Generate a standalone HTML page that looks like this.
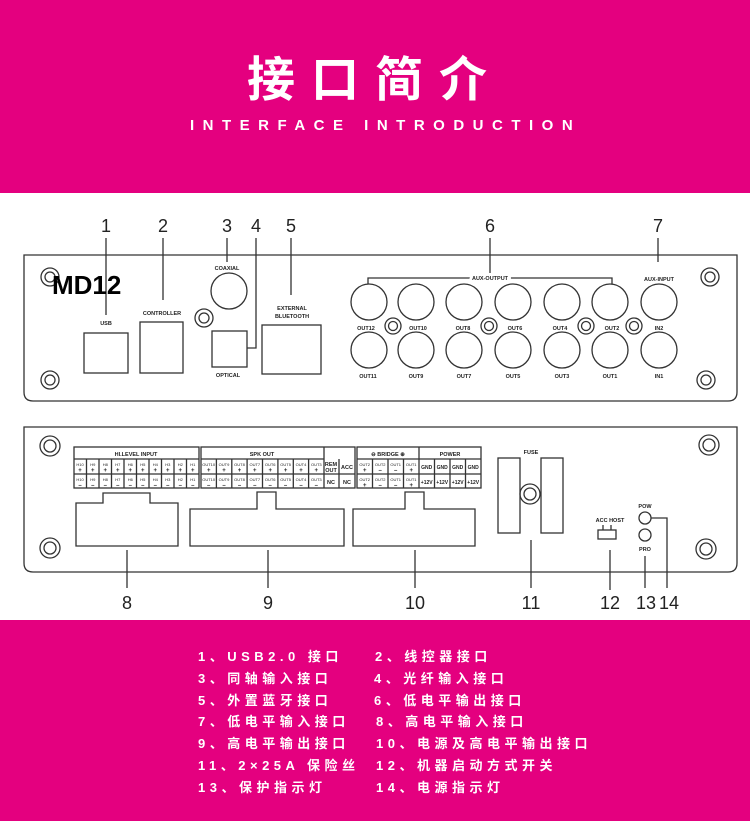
<!DOCTYPE html>
<html><head><meta charset="utf-8"><style>
html,body{margin:0;padding:0;background:#fff;}
body{width:750px;height:821px;position:relative;overflow:hidden;font-family:"Liberation Sans","Noto Sans CJK SC",sans-serif;}
.band{position:absolute;left:0;width:750px;background:#e4007f;}
.t{position:absolute;color:#fff;font-weight:bold;white-space:nowrap;}
.li{position:absolute;color:#fff;font-weight:bold;font-size:13px;letter-spacing:4.5px;white-space:nowrap;font-family:"Liberation Sans","Noto Sans CJK SC",sans-serif;}
</style></head><body>
<div class="band" style="top:0;height:193px;"></div>
<div class="t" style="top:40px;left:0;width:750px;text-align:center;font-size:48px;letter-spacing:16px;font-family:'Noto Sans CJK SC',sans-serif;">接口简介</div>
<div class="t" style="top:117px;left:190px;font-size:15px;letter-spacing:8.5px;">INTERFACE INTRODUCTION</div>

<svg style="position:absolute;left:0;top:193px" width="750" height="427" viewBox="0 193 750 427" xmlns="http://www.w3.org/2000/svg" font-family="Liberation Sans, sans-serif">
<g fill="none" stroke="#333" stroke-width="1.3">
<path d="M24 255 H737 V392 Q737 401 728 401 H33 Q24 401 24 392 Z"/>
<circle cx="50" cy="277" r="9"/><circle cx="50" cy="277" r="5"/>
<circle cx="50" cy="380" r="9"/><circle cx="50" cy="380" r="5"/>
<circle cx="710" cy="277" r="9"/><circle cx="710" cy="277" r="5"/>
<circle cx="706" cy="380" r="9"/><circle cx="706" cy="380" r="5"/>
<rect x="84" y="333" width="44" height="40"/>
<rect x="140" y="322" width="43" height="51"/>
<circle cx="229" cy="291" r="18"/>
<circle cx="204" cy="318" r="9"/><circle cx="204" cy="318" r="5"/>
<rect x="212" y="331" width="35" height="36"/>
<rect x="262" y="325" width="59" height="49"/>
<path d="M106 238 V315 M163 238 V300 M227 238 V262 M256 238 V348 H247 M291 238 V295 M490 238 V278 M658 238 V262"/>
<path d="M368 284 V278 H612 V284"/>
<g>
<circle cx="369" cy="302" r="18"/><circle cx="416" cy="302" r="18"/><circle cx="464" cy="302" r="18"/><circle cx="513" cy="302" r="18"/><circle cx="562" cy="302" r="18"/><circle cx="610" cy="302" r="18"/><circle cx="659" cy="302" r="18"/>
<circle cx="369" cy="350" r="18"/><circle cx="416" cy="350" r="18"/><circle cx="464" cy="350" r="18"/><circle cx="513" cy="350" r="18"/><circle cx="562" cy="350" r="18"/><circle cx="610" cy="350" r="18"/><circle cx="659" cy="350" r="18"/>
<circle cx="393" cy="326" r="8"/><circle cx="393" cy="326" r="4.5"/>
<circle cx="489" cy="326" r="8"/><circle cx="489" cy="326" r="4.5"/>
<circle cx="586" cy="326" r="8"/><circle cx="586" cy="326" r="4.5"/>
<circle cx="634" cy="326" r="8"/><circle cx="634" cy="326" r="4.5"/>
</g>
<path d="M24 427 H737 V563 Q737 572 728 572 H33 Q24 572 24 563 Z"/>
<circle cx="50" cy="446" r="10"/><circle cx="50" cy="446" r="6"/>
<circle cx="50" cy="548" r="10"/><circle cx="50" cy="548" r="6"/>
<circle cx="709" cy="445" r="10"/><circle cx="709" cy="445" r="6"/>
<circle cx="706" cy="549" r="10"/><circle cx="706" cy="549" r="6"/>
<rect x="74" y="447" width="125" height="41"/><path d="M74 459 H199 M74 474 H199"/>
<rect x="201" y="447" width="154" height="41"/><path d="M201 459 H324 M201 474 H355 M324 447 V488 M339 459 V488"/>
<rect x="357" y="447" width="124" height="41"/><path d="M357 459 H481 M357 474 H481 M419 447 V488"/>
<path d="M86.5 459V488M99 459V488M111.5 459V488M124 459V488M136.5 459V488M149 459V488M161.5 459V488M174 459V488M186.5 459V488"/>
<path d="M216.4 459V488M231.8 459V488M247.1 459V488M262.5 459V488M277.9 459V488M293.3 459V488M308.6 459V488"/>
<path d="M372.5 459V488M388 459V488M403.5 459V488M434.5 459V488M450 459V488M465.5 459V488"/>
<path d="M76 503 H103 V493 H150 V503 H178 V546 H76 Z"/>
<path d="M190 509 H257 V492 H276 V509 H344 V546 H190 Z"/>
<path d="M353 509 H405 V492 H424 V509 H475 V546 H353 Z"/>
<path d="M127 550 V588 M268 550 V588 M415 550 V588 M531 540 V588 M610 550 V590 M645 556 V588 M651 518 H667 V588"/>
<rect x="498" y="458" width="22" height="75"/><rect x="541" y="458" width="22" height="75"/>
<circle cx="530" cy="494" r="10"/><circle cx="530" cy="494" r="6"/>
<rect x="598" y="530" width="18" height="9"/><path d="M603 530 V525 M611 530 V525"/>
<circle cx="645" cy="518" r="6"/><circle cx="645" cy="535" r="6"/>
</g>
<g fill="#222" text-anchor="middle">
<g font-size="18"><text x="106" y="232">1</text><text x="163" y="232">2</text><text x="227" y="232">3</text><text x="256" y="232">4</text><text x="291" y="232">5</text><text x="490" y="232">6</text><text x="658" y="232">7</text>
<text x="127" y="609">8</text><text x="268" y="609">9</text><text x="415" y="609">10</text><text x="531" y="609">11</text><text x="610" y="609">12</text><text x="646" y="609">13</text><text x="669" y="609">14</text></g>
<text x="52" y="294" text-anchor="start" font-size="26" font-weight="bold" fill="#000">MD12</text>
<g font-size="5.5" font-weight="bold">
<text x="227" y="270">COAXIAL</text><text x="106" y="325">USB</text><text x="162" y="315">CONTROLLER</text>
<text x="292" y="310">EXTERNAL</text><text x="292" y="318">BLUETOOTH</text><text x="228" y="377">OPTICAL</text>
<text x="490" y="280" style="paint-order:stroke" stroke="#fff" stroke-width="6">AUX-OUTPUT</text><text x="659" y="281">AUX-INPUT</text>
<text x="366" y="330">OUT12</text><text x="418" y="330">OUT10</text><text x="463" y="330">OUT8</text><text x="515" y="330">OUT6</text><text x="560" y="330">OUT4</text><text x="612" y="330">OUT2</text><text x="659" y="330">IN2</text>
<text x="368" y="378">OUT11</text><text x="416" y="378">OUT9</text><text x="464" y="378">OUT7</text><text x="513" y="378">OUT5</text><text x="562" y="378">OUT3</text><text x="610" y="378">OUT1</text><text x="659" y="378">IN1</text>
<text x="136" y="456">HI.LEVEL INPUT</text><text x="262" y="456">SPK OUT</text><text x="388" y="456">⊖ BRIDGE ⊕</text><text x="450" y="456">POWER</text>
<text x="531" y="454">FUSE</text><text x="610" y="522">ACC HOST</text><text x="645" y="508">POW</text><text x="645" y="551">PRO</text>
<text x="347" y="469">ACC</text><text x="347" y="484">NC</text><text x="331" y="466">REM</text><text x="331" y="472">OUT</text><text x="331" y="484">NC</text>
</g>
<g font-size="4">
<text x="80" y="466">H10</text><text x="92.8" y="466">H9</text><text x="105.3" y="466">H8</text><text x="117.8" y="466">H7</text><text x="130.3" y="466">H6</text><text x="142.8" y="466">H5</text><text x="155.3" y="466">H4</text><text x="167.8" y="466">H3</text><text x="180.3" y="466">H2</text><text x="192.8" y="466">H1</text>
<text x="80" y="481">H10</text><text x="92.8" y="481">H9</text><text x="105.3" y="481">H8</text><text x="117.8" y="481">H7</text><text x="130.3" y="481">H6</text><text x="142.8" y="481">H5</text><text x="155.3" y="481">H4</text><text x="167.8" y="481">H3</text><text x="180.3" y="481">H2</text><text x="192.8" y="481">H1</text>
<text x="208.7" y="466">OUT10</text><text x="224" y="466">OUT9</text><text x="239.5" y="466">OUT8</text><text x="254.8" y="466">OUT7</text><text x="270.2" y="466">OUT6</text><text x="285.6" y="466">OUT5</text><text x="301" y="466">OUT4</text><text x="316.3" y="466">OUT3</text>
<text x="208.7" y="481">OUT10</text><text x="224" y="481">OUT9</text><text x="239.5" y="481">OUT8</text><text x="254.8" y="481">OUT7</text><text x="270.2" y="481">OUT6</text><text x="285.6" y="481">OUT5</text><text x="301" y="481">OUT4</text><text x="316.3" y="481">OUT3</text>
<text x="364.7" y="466">OUT2</text><text x="380.2" y="466">OUT2</text><text x="395.7" y="466">OUT1</text><text x="411.2" y="466">OUT1</text>
<text x="364.7" y="481">OUT2</text><text x="380.2" y="481">OUT2</text><text x="395.7" y="481">OUT1</text><text x="411.2" y="481">OUT1</text>
</g>
<g font-size="5" font-weight="bold">
<text x="426.7" y="469">GND</text><text x="442.2" y="469">GND</text><text x="457.7" y="469">GND</text><text x="473.2" y="469">GND</text>
<text x="426.7" y="484">+12V</text><text x="442.2" y="484">+12V</text><text x="457.7" y="484">+12V</text><text x="473.2" y="484">+12V</text>
</g>
<g font-size="6" font-weight="bold">
<text x="80" y="472">+</text><text x="92.8" y="472">+</text><text x="105.3" y="472">+</text><text x="117.8" y="472">+</text><text x="130.3" y="472">+</text><text x="142.8" y="472">+</text><text x="155.3" y="472">+</text><text x="167.8" y="472">+</text><text x="180.3" y="472">+</text><text x="192.8" y="472">+</text>
<text x="80" y="487">–</text><text x="92.8" y="487">–</text><text x="105.3" y="487">–</text><text x="117.8" y="487">–</text><text x="130.3" y="487">–</text><text x="142.8" y="487">–</text><text x="155.3" y="487">–</text><text x="167.8" y="487">–</text><text x="180.3" y="487">–</text><text x="192.8" y="487">–</text>
<text x="208.7" y="472">+</text><text x="224" y="472">+</text><text x="239.5" y="472">+</text><text x="254.8" y="472">+</text><text x="270.2" y="472">+</text><text x="285.6" y="472">+</text><text x="301" y="472">+</text><text x="316.3" y="472">+</text>
<text x="208.7" y="487">–</text><text x="224" y="487">–</text><text x="239.5" y="487">–</text><text x="254.8" y="487">–</text><text x="270.2" y="487">–</text><text x="285.6" y="487">–</text><text x="301" y="487">–</text><text x="316.3" y="487">–</text>
<text x="364.7" y="472">+</text><text x="380.2" y="472">–</text><text x="395.7" y="472">–</text><text x="411.2" y="472">+</text>
<text x="364.7" y="487">+</text><text x="380.2" y="487">–</text><text x="395.7" y="487">–</text><text x="411.2" y="487">+</text>
</g>
</g>
</svg>

<div class="band" style="top:620px;height:201px;"></div>
<div class="li" style="left:198px;top:646px;">1、USB2.0 接口</div>
<div class="li" style="left:375px;top:646px;">2、线控器接口</div>
<div class="li" style="left:198px;top:668px;">3、同轴输入接口</div>
<div class="li" style="left:374px;top:668px;">4、光纤输入接口</div>
<div class="li" style="left:198px;top:690px;">5、外置蓝牙接口</div>
<div class="li" style="left:374px;top:690px;">6、低电平输出接口</div>
<div class="li" style="left:198px;top:711px;">7、低电平输入接口</div>
<div class="li" style="left:376px;top:711px;">8、高电平输入接口</div>
<div class="li" style="left:198px;top:733px;">9、高电平输出接口</div>
<div class="li" style="left:376px;top:733px;">10、电源及高电平输出接口</div>
<div class="li" style="left:198px;top:755px;">11、2×25A 保险丝</div>
<div class="li" style="left:376px;top:755px;">12、机器启动方式开关</div>
<div class="li" style="left:198px;top:777px;">13、保护指示灯</div>
<div class="li" style="left:376px;top:777px;">14、电源指示灯</div>
</body></html>
